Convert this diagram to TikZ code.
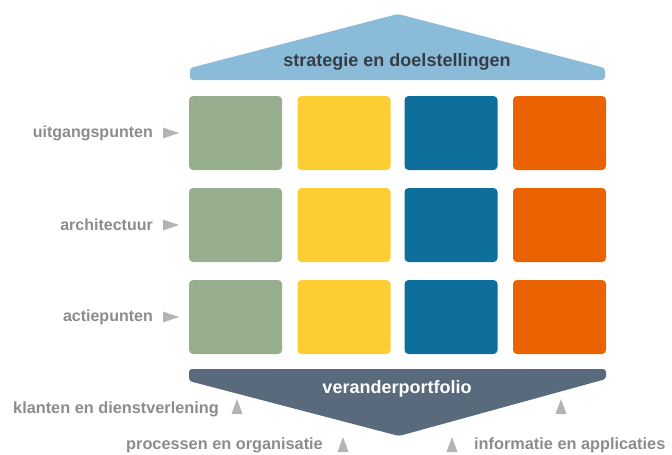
\documentclass[tikz,border=0pt]{standalone}
\usepackage{fontspec}
\setmainfont{Liberation Sans}
\usetikzlibrary{positioning}
\definecolor{cgreen}{HTML}{98AF8F}
\definecolor{cyellow}{HTML}{FCCE33}
\definecolor{cblue}{HTML}{0E6E9C}
\definecolor{corange}{HTML}{EB6200}
\definecolor{croof}{HTML}{8ABCD9}
\definecolor{cbase}{HTML}{586A7C}
\definecolor{ctitle}{HTML}{373C45}
\definecolor{clabel}{HTML}{8C8C8C}
\definecolor{cmark}{HTML}{B4B4B4}
\begin{document}
\begin{tikzpicture}[x=1pt,y=-1pt,
  cell/.style={rounded corners=4pt,minimum width=93pt,minimum height=74pt,inner sep=0pt,draw=none},
  rowlabel/.style={font=\bfseries\fontsize{16}{18}\selectfont,text=clabel,anchor=east,inner sep=0pt},
  baselabel/.style={font=\bfseries\fontsize{16.3}{18}\selectfont,text=clabel,inner sep=0pt},
  marker/.style={fill=cmark,draw=none}]
\useasboundingbox (0,0) rectangle (672,455);

% roof: strategy
\fill[croof,rounded corners=3pt] (190,68) -- (398,14) -- (605,68) -- (605,80) -- (190,80) -- cycle;
\node[font=\bfseries\fontsize{18}{20}\selectfont,text=ctitle] (strat) at (397,62) {strategie en doelstellingen};

% grid of cells
\foreach \r/\y in {1/133,2/225,3/317}{
  \node[cell,fill=cgreen]  (g\r) at (235.5,\y) {};
  \node[cell,fill=cyellow] (y\r) at (344,\y) {};
  \node[cell,fill=cblue]   (b\r) at (451,\y) {};
  \node[cell,fill=corange] (o\r) at (559.5,\y) {};
}

% row labels with markers
\node[rowlabel] (l1) at (153,133) {uitgangspunten};
\node[rowlabel] (l2) at (153,225) {architectuur};
\node[rowlabel] (l3) at (153,317) {actiepunten};
\foreach \y in {133,225,317}{
  \fill[marker] (163,\y-5.5) -- (179,\y) -- (163,\y+5.5) -- cycle;
}

% base: change portfolio
\fill[cbase,rounded corners=3pt] (189,369) -- (606,369) -- (606,379) -- (399,436) -- (189,381) -- cycle;
\node[font=\bfseries\fontsize{18}{20}\selectfont,text=white] (port) at (397,389) {veranderportfolio};

% base labels with markers
\node[baselabel,anchor=east] (k) at (219,409) {klanten en dienstverlening};
\node[baselabel,anchor=east] (p) at (323,445) {processen en organisatie};
\node[baselabel,anchor=west] (i) at (474,445) {informatie en applicaties};
\foreach \x/\yb in {237/414,561/414,343/452,452/452}{
  \fill[marker] (\x-5.5,\yb) -- (\x,\yb-15) -- (\x+5.5,\yb) -- cycle;
}
\end{tikzpicture}
\end{document}
